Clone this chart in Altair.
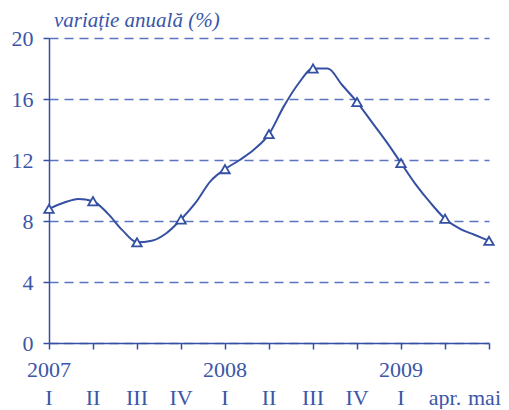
import altair as alt
import pandas as pd

# monthly-ish points (thirds of a quarter interval), markers every 3rd point
values = [8.8, 9.2, 9.45, 9.3, 8.5, 7.4, 6.6, 6.7, 7.2, 8.1, 9.2, 10.6, 11.4, 12.0, 12.7,
          13.7, 15.5, 17.0, 18.0, 18.0, 16.9, 15.8, 14.5, 13.2, 11.8, 10.4, 9.2, 8.15, 7.5, 7.1, 6.7]
tick_labels = ["I", "II", "III", "IV", "I", "II", "III", "IV", "I", "apr.", "mai"]
years = ["2007", "2008", "2009"]
year_pos = [0, 12, 24]
y_ticks = [0, 4, 8, 12, 16, 20]
subtitle = "variație anuală (%)"

BLUE = "#3550a3"
TEXT = "#3a56a8"
GRID = "#5b74c2"
FONT = "'Liberation Serif', 'Times New Roman', serif"

df = pd.DataFrame({"i": list(range(len(values))), "v": values})
mk = df[df["i"] % 3 == 0]
qdf = pd.DataFrame({"i": [k * 3 for k in range(len(tick_labels))], "lab": tick_labels})
q_main = qdf.iloc[:-1]
q_last = qdf.iloc[-1:]
ydf = pd.DataFrame({"i": year_pos, "lab": years})

W, H = 440, 305
xs = alt.Scale(domain=[0, 30], nice=False)
ys = alt.Scale(domain=[0, 20], nice=False)

base = alt.Chart(df)
line = base.mark_line(color=BLUE, strokeWidth=2, interpolate="monotone").encode(
    x=alt.X("i:Q", scale=xs, axis=alt.Axis(values=list(range(0, 31, 3)), labels=False, title=None,
                                          grid=False, tickSize=6, domainColor=BLUE, tickColor=BLUE,
                                          domainWidth=1.5, tickWidth=1.5)),
    y=alt.Y("v:Q", scale=ys, axis=alt.Axis(values=y_ticks, title=None, grid=True, gridDash=[9, 6],
                                          gridColor=GRID, gridWidth=1.3, tickSize=6, domainColor=BLUE,
                                          tickColor=BLUE, domainWidth=1.5, tickWidth=1.5,
                                          labelFont=FONT, labelFontSize=22, labelColor=TEXT,
                                          labelPadding=10)),
)
marks = alt.Chart(mk).mark_point(shape="triangle-up", filled=True, fill="white", stroke=BLUE,
                                 strokeWidth=1.8, size=90, opacity=1).encode(
    x=alt.X("i:Q", scale=xs), y=alt.Y("v:Q", scale=ys))

qtext = alt.Chart(q_main).mark_text(font=FONT, fontSize=22, color=TEXT, baseline="alphabetic",
                                    align="center").encode(
    x=alt.X("i:Q", scale=xs), y=alt.value(367), text="lab:N")
qlast = alt.Chart(q_last).mark_text(font=FONT, fontSize=22, color=TEXT, baseline="alphabetic",
                                    align="right", dx=12).encode(
    x=alt.X("i:Q", scale=xs), y=alt.value(367), text="lab:N")
ytext = alt.Chart(ydf).mark_text(font=FONT, fontSize=22, color=TEXT, baseline="alphabetic",
                                 align="center").encode(
    x=alt.X("i:Q", scale=xs), y=alt.value(339), text="lab:N")
sub = alt.Chart(pd.DataFrame({"t": [subtitle]})).mark_text(
    font=FONT, fontSize=21, fontStyle="italic", color=TEXT, align="left", baseline="alphabetic").encode(
    x=alt.value(5), y=alt.value(-11), text="t:N")

chart = alt.layer(line, marks, qtext, qlast, ytext, sub).properties(
    width=W, height=H,
    autosize=alt.AutoSizeParams(type="none"),
    padding={"left": 41, "top": 30, "right": 12, "bottom": 66},
).configure_view(stroke=None)

chart.save("out.html", embed_options={"renderer": "svg", "actions": False})
